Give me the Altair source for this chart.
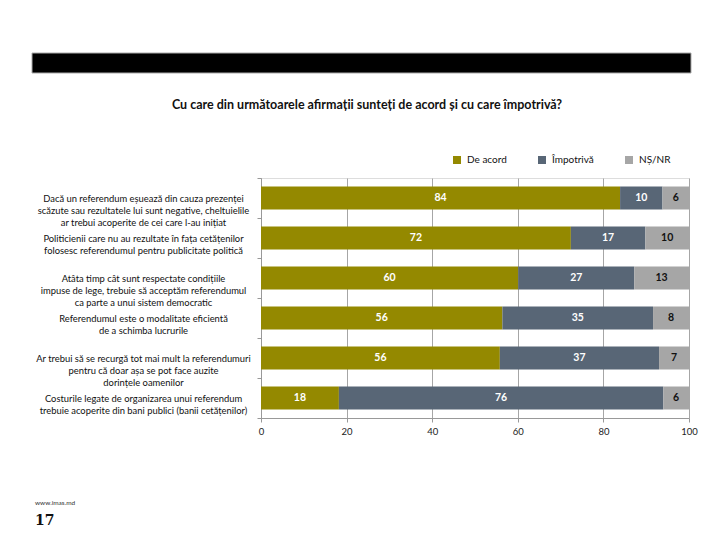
import altair as alt
import pandas as pd

statements = [
    "Dacă un referendum eșuează din cauza prezenței|scăzute sau rezultatele lui sunt negative, cheltuielile|ar trebui acoperite de cei care l-au inițiat",
    "Politicienii care nu au rezultate în fața cetățenilor|folosesc referendumul pentru publicitate politică",
    "Atâta timp cât sunt respectate condițiile|impuse de lege, trebuie să acceptăm referendumul|ca parte a unui sistem democratic",
    "Referendumul este o modalitate eficientă|de a schimba lucrurile",
    "Ar trebui să se recurgă tot mai mult la referendumuri|pentru că doar așa se pot face auzite|dorințele oamenilor",
    "Costurile legate de organizarea unui referendum|trebuie acoperite din bani publici (banii cetățenilor)",
]
series = ["De acord", "Împotrivă", "NȘ/NR"]
de_acord = [83.9, 72.4, 60.1, 56.4, 55.8, 18.2]
impotriva = [9.9, 17.4, 27.1, 35.2, 37.2, 75.8]
ns_nr = [6.2, 10.2, 12.8, 8.4, 7.0, 6.0]
colors = ["#948900", "#586676", "#a6a6a6"]
x_ticks = [0, 20, 40, 60, 80, 100]

title_text = "Cu care din următoarele afirmații sunteți de acord și cu care împotrivă?"
site_text = "www.imas.md"
page_text = "17"

rows = []
for i, s in enumerate(statements):
    for j, (name, vals) in enumerate(zip(series, [de_acord, impotriva, ns_nr])):
        rows.append({"stmt": s, "series": name, "ord": j, "value": vals[i]})
df = pd.DataFrame(rows)

FONT = "Lato"

base = alt.Chart(df).transform_stack(
    stack="value", as_=["x0", "x1"], groupby=["stmt"], sort=[alt.SortField("ord")]
).transform_calculate(mid="(datum.x0 + datum.x1) / 2")

yenc = alt.Y(
    "stmt:N",
    sort=statements,
    scale=alt.Scale(paddingInner=0, paddingOuter=0),
    axis=alt.Axis(
        title=None,
        labelExpr="split(datum.label, '|')",
        labelAlign="center",
        labelPadding=114,
        labelFontSize=9.4,
        labelLineHeight=12,
        labelFont=FONT,
        labelColor="#111",
        labelLimit=400,
        tickBand="extent",
        tickSize=4,
        tickColor="#999",
        domainColor="#999",
        grid=False,
    ),
)

bars = base.mark_bar(size=23).encode(
    x=alt.X(
        "x0:Q",
        scale=alt.Scale(domain=[0, 100], nice=False),
        axis=alt.Axis(
            title=None,
            values=x_ticks,
            grid=True,
            gridColor="#a6a6a6",
            tickColor="#999",
            domainColor="#999",
            tickSize=4,
            labelFontSize=9.5,
            labelFont=FONT,
            labelColor="#222",
            labelPadding=4,
            labelFlush=False,
        ),
    ),
    x2="x1:Q",
    y=yenc,
    color=alt.Color(
        "series:N",
        scale=alt.Scale(domain=series, range=colors),
        legend=alt.Legend(
            title=None,
            orient="none",
            direction="horizontal",
            legendX=191,
            legendY=-23,
            symbolType="square",
            symbolSize=64,
            symbolStrokeWidth=0,
            labelFontSize=10,
            labelFont=FONT,
            labelColor="#111",
            labelOffset=5,
            columnPadding=30,
            padding=0,
        ),
    ),
)

texts = base.mark_text(fontWeight="bold", fontSize=10.5, font=FONT).encode(
    x=alt.X("mid:Q"),
    y=alt.Y("stmt:N", sort=statements),
    text=alt.Text("value:Q", format=".0f"),
    color=alt.condition(
        alt.datum.series == "NȘ/NR", alt.value("#111"), alt.value("white")
    ),
)

banner = alt.Chart(pd.DataFrame({"a": [1]})).mark_rect(
    color="black", stroke="#aaa", strokeWidth=1
).encode(x=alt.value(-229), x2=alt.value(430), y=alt.value(-125), y2=alt.value(-105))

title = alt.Chart(pd.DataFrame({"t": [title_text]})).mark_text(
    fontWeight="bold", fontSize=12.5, font=FONT, color="#111", baseline="middle"
).encode(text="t:N", x=alt.value(106), y=alt.value(-73))

site = alt.Chart(pd.DataFrame({"t": [site_text]})).mark_text(
    fontSize=6.5, font=FONT, color="#333", align="left", baseline="middle"
).encode(text="t:N", x=alt.value(-226), y=alt.value(325))

page = alt.Chart(pd.DataFrame({"t": [page_text]})).mark_text(
    fontSize=14, font="DejaVu Serif", fontWeight="bold", color="#111", align="left", baseline="middle"
).encode(text="t:N", x=alt.value(-226), y=alt.value(343))

chart = alt.layer(banner, bars, texts, title, site, page).properties(
    width=428,
    height=240,
    autosize=alt.AutoSizeParams(type="none"),
    padding={"left": 261, "top": 178, "right": 31, "bottom": 122},
).configure_view(stroke=None).configure(background="white")

chart.save("out.html", embed_options={"renderer": "svg", "actions": False})
